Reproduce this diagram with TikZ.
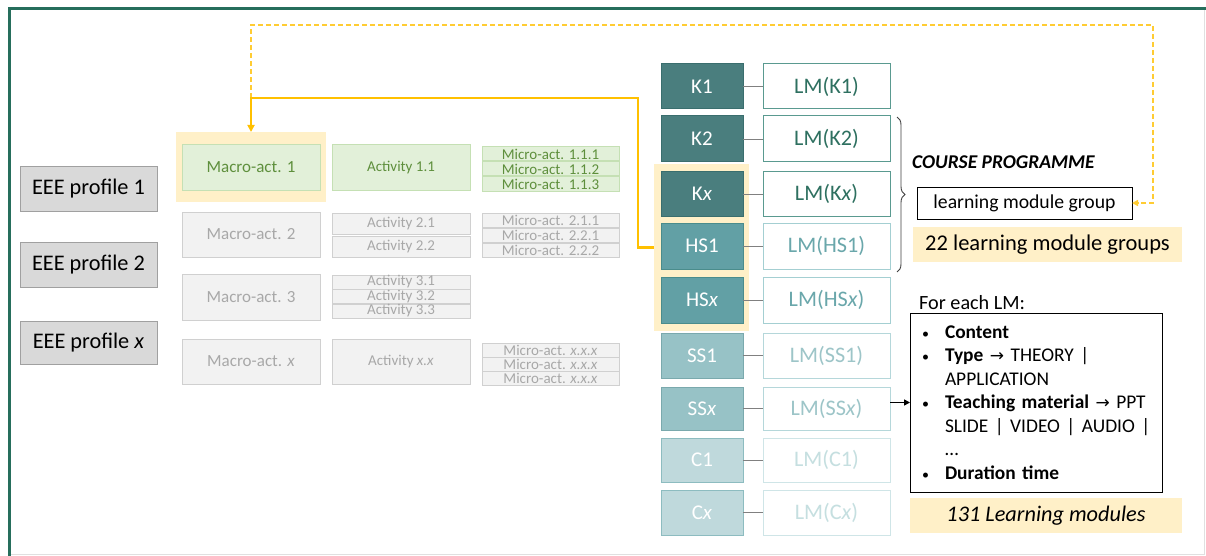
\documentclass[tikz,border=0pt]{standalone}
\usepackage{fontspec}
\setmainfont{Carlito}
\newfontfamily\dejavu{DejaVu Sans}
\usetikzlibrary{arrows.meta,decorations.pathreplacing}
\newcommand\myfs[1]{\fontsize{#1}{#1}\selectfont}
\newcommand\mybul{\makebox[25pt][l]{\hspace*{2pt}{\fontsize{14}{14}\selectfont\textbullet}}}
\newcommand\myarr{{\dejavu\fontsize{17}{17}\selectfont →}}
\newcommand\myline[1]{\mbox{#1}}
\definecolor{framegreen}{HTML}{266E5C}
\definecolor{yel}{HTML}{FFC000}
\definecolor{yeld}{HTML}{FFCC33}
\definecolor{hl}{HTML}{FFF0C8}
\definecolor{eeefill}{HTML}{D9D9D9}
\definecolor{eeeborder}{HTML}{A0A0A0}
\definecolor{gfill}{HTML}{E2F0D9}
\definecolor{gborder}{HTML}{C5E0B4}
\definecolor{gtext}{HTML}{5E8F3C}
\definecolor{xfill}{HTML}{F2F2F2}
\definecolor{xborder}{HTML}{D0D0D0}
\definecolor{xtext}{HTML}{A8A8A8}
\definecolor{kfill}{HTML}{4A7E7E}
\definecolor{kborder}{HTML}{3A6E6E}
\definecolor{hfill}{HTML}{62A0A5}
\definecolor{hborder}{HTML}{4A8C8C}
\definecolor{sfill}{HTML}{97C2C6}
\definecolor{sborder}{HTML}{7AA9AD}
\definecolor{cfill}{HTML}{BFD9DC}
\definecolor{cborder}{HTML}{8DBCC0}
\definecolor{klm}{HTML}{2E7060}
\definecolor{klmb}{HTML}{5A9A90}
\definecolor{hlm}{HTML}{6AA7AB}
\definecolor{hlmb}{HTML}{A4CFD2}
\definecolor{slm}{HTML}{9DC5C8}
\definecolor{slmb}{HTML}{B5D7DA}
\definecolor{clm}{HTML}{C5DFE0}
\definecolor{clmb}{HTML}{CFE5E7}
\begin{document}
\begin{tikzpicture}[x=1pt,y=-1pt,
  box/.style={anchor=north west, inner sep=0pt, outer sep=0pt, line width=1pt},
  eee/.style={box, draw=eeeborder, fill=eeefill, minimum width=137, font=\myfs{22.3}},
  hlbox/.style={box, fill=hl},
  gbox/.style={box, draw=gborder, fill=gfill, text=gtext},
  xbox/.style={box, draw=xborder, fill=xfill, text=xtext},
  macro/.style={minimum width=138, font=\myfs{17}},
  actbox/.style={minimum width=138, font=\myfs{15}},
  micro/.style={minimum width=137, minimum height=14, font=\myfs{15}},
  kb/.style={box, minimum width=82, text=white, font=\myfs{21}},
  lmb/.style={box, minimum width=127, fill=white, font=\myfs{22.2}},
  kst/.style={kb, draw=kborder, fill=kfill},
  hst/.style={kb, draw=hborder, fill=hfill},
  sst/.style={kb, draw=sborder, fill=sfill},
  cst/.style={kb, draw=cborder, fill=cfill},
  klmst/.style={lmb, draw=klmb, text=klm},
  hlmst/.style={lmb, draw=hlmb, text=hlm},
  slmst/.style={lmb, draw=slmb, text=slm},
  clmst/.style={lmb, draw=clmb, text=clm},
  link/.style={draw=gray, line width=0.9pt},
  ysolid/.style={draw=yel, line width=2.2pt},
  ydash/.style={draw=yeld, line width=1.5pt, dash pattern=on 5pt off 3pt}
]
\useasboundingbox (0,0) rectangle (1206,556);
\fill[white] (0,0) rectangle (1206,556);
% frame
\draw[black!12, line width=1pt] (1204,9) -- (1204,554.5) -- (9,554.5);
\draw[framegreen, line width=3pt] (9,556) -- (9,9) -- (1206,9);

% EEE profiles
\node[eee, minimum height=44] (e1) at (20,167) {EEE profile 1};
\node[eee, minimum height=45] (e2) at (20,242) {EEE profile 2};
\node[eee, minimum height=43] (e3) at (20,321) {EEE profile \textit{x}};

% highlights
\node[hlbox, minimum width=150, minimum height=70] (mhl) at (176,132) {};
\node[hlbox, minimum width=95, minimum height=167] (khl) at (654,164) {};

% macro activities
\node[gbox, macro, minimum height=45] (m1) at (182,145) {Macro-act. 1};
\node[xbox, macro, minimum height=45] (m2) at (182,212) {Macro-act. 2};
\node[xbox, macro, minimum height=46] (m3) at (182,274) {Macro-act. 3};
\node[xbox, macro, minimum height=45] (m4) at (182,339) {Macro-act. \textit{x}};

% activities
\node[gbox, actbox, minimum height=45] (a11) at (332,145) {Activity 1.1};
\node[xbox, actbox, minimum height=21] (a21) at (332,213) {Activity 2.1};
\node[xbox, actbox, minimum height=21] (a22) at (332,236) {Activity 2.2};
\node[xbox, actbox, minimum height=14] (a31) at (332,275) {Activity 3.1};
\node[xbox, actbox, minimum height=14] (a32) at (332,289.5) {Activity 3.2};
\node[xbox, actbox, minimum height=14] (a33) at (332,304) {Activity 3.3};
\node[xbox, actbox, minimum height=45] (axx) at (332,339) {Activity \textit{x.x}};

% micro activities
\node[gbox, micro] (mi1) at (482,147) {Micro-act. 1.1.1};
\node[gbox, micro] (mi2) at (482,162) {Micro-act. 1.1.2};
\node[gbox, micro] (mi3) at (482,177) {Micro-act. 1.1.3};
\node[xbox, micro] (mi4) at (482,213) {Micro-act. 2.1.1};
\node[xbox, micro] (mi5) at (482,228) {Micro-act. 2.2.1};
\node[xbox, micro] (mi6) at (482,243) {Micro-act. 2.2.2};
\node[xbox, micro] (mi7) at (482,343) {Micro-act. \textit{x.x.x}};
\node[xbox, micro] (mi8) at (482,357) {Micro-act. \textit{x.x.x}};
\node[xbox, micro] (mi9) at (482,371) {Micro-act. \textit{x.x.x}};

% K / HS / SS / C column
\node[kst, minimum height=45] (k1) at (661,64) {K1};
\node[kst, minimum height=46] (k2) at (661,116) {K2};
\node[kst, minimum height=44] (kx) at (661,172) {K\textit{x}};
\node[hst, minimum height=46] (h1) at (661,223) {HS1};
\node[hst, minimum height=46] (hx) at (661,277) {HS\textit{x}};
\node[sst, minimum height=45] (s1) at (661,333) {SS1};
\node[sst, minimum height=43] (sx) at (661,387) {SS\textit{x}};
\node[cst, minimum height=44] (c1) at (661,438) {C1};
\node[cst, minimum height=45] (cx) at (661,490) {C\textit{x}};

\node[klmst, minimum height=45] (lk1) at (763,64) {LM(K1)};
\node[klmst, minimum height=46] (lk2) at (763,116) {LM(K2)};
\node[klmst, minimum height=44] (lkx) at (763,172) {LM(K\textit{x})};
\node[hlmst, minimum height=46] (lh1) at (763,223) {LM(HS1)};
\node[hlmst, minimum height=46] (lhx) at (763,277) {LM(HS\textit{x})};
\node[slmst, minimum height=45] (ls1) at (763,333) {LM(SS1)};
\node[slmst, minimum height=43] (lsx) at (763,387) {LM(SS\textit{x})};
\node[clmst, minimum height=44] (lc1) at (763,438) {LM(C1)};
\node[clmst, minimum height=45] (lcx) at (763,490) {LM(C\textit{x})};

\foreach \a/\b in {k1/lk1,k2/lk2,kx/lkx,h1/lh1,hx/lhx,s1/ls1,sx/lsx,c1/lc1,cx/lcx}
  \draw[link] (\a.east) -- (\b.west);

% brace
\coordinate (bt) at (897,117);
\coordinate (bb) at (897,272);
\draw[black!75, line width=0.9pt, decorate, decoration={brace, amplitude=8pt}] (bt) -- (bb);

% course programme
\node[anchor=west, inner sep=0pt, font=\myfs{19.5}\bfseries\itshape] (cp) at (912,162) {COURSE PROGRAMME};
\node[box, draw=black, line width=0.9pt, minimum width=215, minimum height=32, font=\myfs{19.7}] (lmg) at (917,187) {learning module group};
\node[hlbox, minimum width=269, minimum height=35, font=\myfs{22.5}] (g22) at (913,227) {22 learning module groups};

% for each LM
\node[anchor=west, inner sep=0pt, font=\myfs{20.2}] (fe) at (919,303) {For each LM:};
\node[box, draw=black, line width=0.9pt, minimum width=252, minimum height=179, inner xsep=10pt, inner ysep=0pt,
      text width=232, align=left, font=\fontsize{19.4}{23.5}\selectfont] (lb) at (910,313)
  {\myline{\mybul\textbf{Content}}\\
   \myline{\mybul\textbf{Type} \myarr{} THEORY |}\\
   \myline{\hspace*{25pt}APPLICATION}\\
   \myline{\mybul\textbf{Teaching material} \myarr{} PPT}\\
   \myline{\hspace*{25pt}SLIDE | VIDEO | AUDIO |}\\
   \myline{\hspace*{25pt}\dots}\\
   \myline{\mybul\textbf{Duration time}}};
\node[hlbox, minimum width=272, minimum height=35, font=\myfs{22.3}\itshape] (l131) at (910,498) {131 Learning modules};

% arrows
\draw[line width=1.5pt, -{Triangle[length=6pt,width=6pt]}] (lsx.east |- lb.west) -- (lb.west);

\coordinate (j) at (251,98);
\coordinate (c1p) at (638,98);
\coordinate (top) at (1153,25);
\draw[ydash, -{Triangle[length=6pt,width=6pt]}] (j) |- (top) |- (lmg.east);
\draw[ysolid, -{Triangle[length=7pt,width=7pt]}] (khl.west) -| (c1p) -- (j) -- (mhl.north);
\end{tikzpicture}
\end{document}
